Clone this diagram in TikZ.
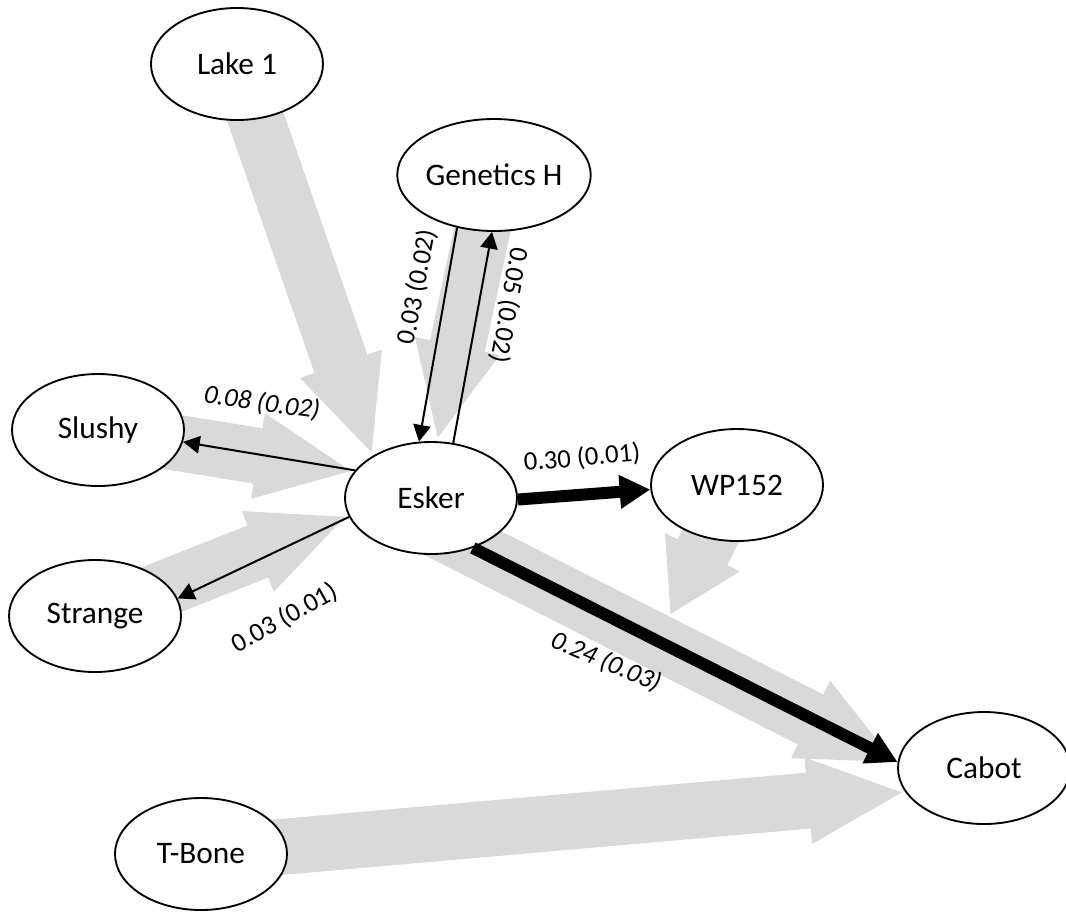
\documentclass[tikz,border=0pt]{standalone}
\usepackage{fontspec}
\setmainfont{Carlito}
\usetikzlibrary{arrows.meta,shapes.geometric,calc,backgrounds}
\definecolor{flowgray}{HTML}{D9D9D9}
\tikzset{
  pop/.style={draw, ellipse, line width=1.4pt, fill=white, minimum width=129pt,
    minimum height=84pt, inner sep=0pt, font=\fontsize{23.5}{28}\selectfont},
  lbl/.style={inner sep=0pt, font=\fontsize{20}{24}\selectfont},
  lblit/.style={inner sep=0pt, font=\fontsize{20}{24}\selectfont\itshape},
  flow/.style={color=flowgray, line width=42pt, -{Triangle[width=59pt,length=73pt]}},
  mig/.style={line width=1.5pt, -{Triangle[width=13pt,length=12.5pt]}},
  bigmig/.style={line width=9pt, -{Triangle[width=24pt,length=23pt]}}
}
\begin{document}
\begin{tikzpicture}[x=0.75pt,y=-0.75pt]
  \useasboundingbox (0,0) rectangle (1066,911);
  % populations
  \node[pop] (lake) at (237,64) {Lake 1};
  \node[pop] (genetics) at (494,175) {Genetics H};
  \node[pop] (slushy) at (98,430) {Slushy};
  \node[pop] (esker) at (431,498) {Esker};
  \node[pop] (wp) at (737,485) {WP152};
  \node[pop] (strange) at (95,616) {Strange};
  \node[pop] (cabot) at (984,768) {Cabot};
  \node[pop] (tbone) at (201,854) {T-Bone};
  \coordinate (wpjoin) at (670,615);
  % gray flows behind
  \begin{scope}[on background layer]
    \draw[flow] (lake.center) -- (esker.144);
    \draw[flow] (genetics.center) -- (esker.84);
    \draw[flow] (slushy.center) -- (esker.161);
    \draw[flow] (strange.center) -- (esker.192);
    \draw[flow] ($(esker)+(0,29)$) -- (cabot.177);
    \draw[flow] (tbone.center) -- (cabot.197);
    \draw[flow, -{Triangle[width=59pt,length=53pt]}] (wp.center) -- (wpjoin);
  \end{scope}
  % migration rates
  \draw[mig] (genetics.235) -- (esker.102);
  \draw[mig] (esker.68) -- (genetics.268);
  \draw[mig] (esker.160) -- (slushy.-8);
  \draw[mig] (esker.193) -- (strange.12);
  \draw[bigmig] (esker.-1) -- (wp.183);
  \draw[bigmig] (esker.-50) -- (cabot.176);
  % rate labels
  \node[lbl, rotate=79] (l1) at (417,287) {0.03 (0.02)};
  \node[lbl, rotate=-100] (l2) at (509,305) {0.05 (0.02)};
  \node[lblit, rotate=-8] (l3) at (262,403) {0.08 (0.02)};
  \node[lbl, rotate=29] (l4) at (285,618) {0.03 (0.01)};
  \node[lbl, rotate=5] (l5) at (582,458) {0.30 (0.01)};
  \node[lblit, rotate=-23] (l6) at (606,662) {0.24 (0.03)};
\end{tikzpicture}
\end{document}
